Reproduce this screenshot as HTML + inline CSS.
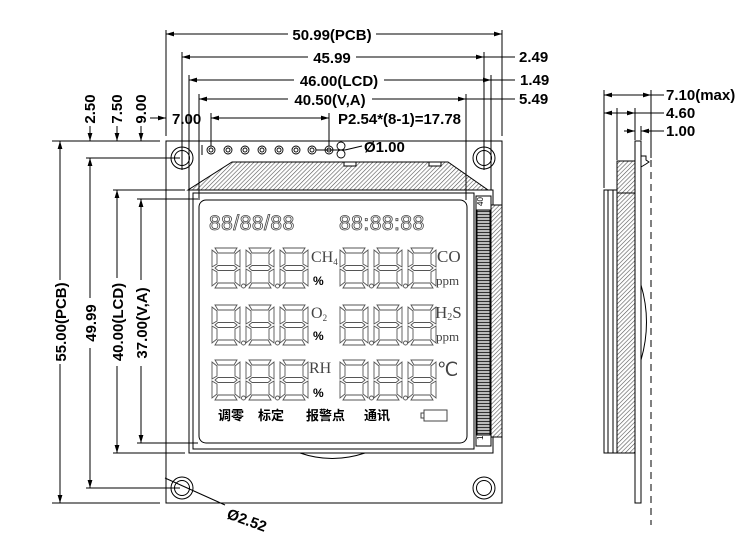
<!DOCTYPE html>
<html><head><meta charset="utf-8"><style>
html,body{margin:0;padding:0;background:#fff}
svg{display:block}
text{font-family:"Liberation Sans","Noto Sans CJK SC",sans-serif;font-weight:bold;fill:#000}
.s{font-family:"Liberation Serif",serif;font-weight:normal;fill:#444}
.m{text-anchor:middle}
</style></head><body>
<svg width="750" height="554" viewBox="0 0 750 554" xmlns="http://www.w3.org/2000/svg">
<defs>
<pattern id="h" width="3" height="3" patternUnits="userSpaceOnUse" patternTransform="rotate(45)">
<rect width="3" height="3" fill="#fff"/><line x1="0" y1="0" x2="0" y2="3" stroke="#555" stroke-width="1.2"/></pattern>
<pattern id="h2" width="3" height="3" patternUnits="userSpaceOnUse">
<rect width="3" height="3" fill="#bbb"/><line x1="0" y1="1.5" x2="3" y2="1.5" stroke="#333" stroke-width="1"/></pattern>
<marker id="a" viewBox="0 0 10 6" refX="10" refY="3" markerWidth="8" markerHeight="5" orient="auto-start-reverse"><path d="M0,0L10,3L0,6z" fill="#000"/></marker>
<g id="d" fill="none" stroke="#555" stroke-width="0.9">
<polygon points="3,0 25,0 22,5 6,5"/>
<polygon points="3,20 6,17.5 22,17.5 25,20 22,22.5 6,22.5"/>
<polygon points="3,40 6,35 22,35 25,40"/>
<polygon points="0,2 5,6 5,16 0,19"/>
<polygon points="28,2 23,6 23,16 28,19"/>
<polygon points="0,21 5,24 5,34 0,38"/>
<polygon points="28,21 23,24 23,34 28,38"/>
</g>
<g id="dd"><use href="#d"/><circle cx="31.5" cy="38" r="2" fill="none" stroke="#555" stroke-width="0.9"/></g>
</defs>
<g stroke="#000" stroke-width="1" fill="none">
<rect x="166" y="141" width="336" height="362"/>
<g><circle cx="182" cy="158" r="11"/><circle cx="182" cy="158" r="7.5"/>
<circle cx="484" cy="158" r="11"/><circle cx="484" cy="158" r="7.5"/>
<circle cx="182" cy="488" r="11"/><circle cx="182" cy="488" r="7.5"/>
<circle cx="484" cy="488" r="11"/><circle cx="484" cy="488" r="7.5"/></g>
<g stroke-width="0.9">
<circle cx="211" cy="150" r="4"/><circle cx="211" cy="150" r="2"/>
<circle cx="228" cy="150" r="4"/><circle cx="228" cy="150" r="2"/>
<circle cx="245" cy="150" r="4"/><circle cx="245" cy="150" r="2"/>
<circle cx="262" cy="150" r="4"/><circle cx="262" cy="150" r="2"/>
<circle cx="279" cy="150" r="4"/><circle cx="279" cy="150" r="2"/>
<circle cx="296" cy="150" r="4"/><circle cx="296" cy="150" r="2"/>
<circle cx="312" cy="150" r="4"/><circle cx="312" cy="150" r="2"/>
<circle cx="329" cy="150" r="4"/><circle cx="329" cy="150" r="2"/>
<circle cx="341" cy="146" r="4"/><circle cx="341" cy="154" r="4"/>
</g>
<line x1="202" y1="145" x2="202" y2="155"/>
<line x1="316" y1="150" x2="345" y2="150"/>
<line x1="345" y1="150" x2="362" y2="146"/>
<polygon points="232,162 448,162 488,190 188,190" fill="url(#h)"/>
<rect x="344" y="162" width="12" height="4" fill="#fff"/>
<rect x="429" y="162" width="12" height="4" fill="#fff"/>
<rect x="189" y="190" width="304" height="263" fill="#fff"/>
<rect x="193" y="193" width="281" height="256"/>
<rect x="199" y="200" width="268" height="243" rx="7"/>
<path d="M300,453 Q332,464 365,453"/>
<rect x="476" y="196" width="15" height="250" fill="#fff"/>
<rect x="477" y="210" width="13" height="225" fill="url(#h2)"/>
<rect x="491" y="205" width="11" height="232" fill="url(#h)"/>
<line x1="166" y1="30" x2="166" y2="136"/><line x1="502" y1="30" x2="502" y2="136"/>
<line x1="182" y1="52" x2="182" y2="170"/><line x1="484" y1="52" x2="484" y2="170"/>
<line x1="189" y1="75" x2="189" y2="190"/><line x1="491" y1="75" x2="491" y2="190"/>
<line x1="199" y1="94" x2="199" y2="200"/><line x1="466" y1="94" x2="466" y2="200"/>
<line x1="211" y1="113" x2="211" y2="146"/><line x1="329" y1="113" x2="329" y2="146"/>
<g marker-start="url(#a)" marker-end="url(#a)">
<line x1="166" y1="34" x2="502" y2="34"/>
<line x1="182" y1="57" x2="484" y2="57"/>
<line x1="189" y1="80" x2="491" y2="80"/>
<line x1="199" y1="99" x2="466" y2="99"/>
<line x1="211" y1="118" x2="329" y2="118"/>
</g>
<line x1="484" y1="57" x2="515" y2="57"/><line x1="491" y1="80" x2="515" y2="80"/><line x1="466" y1="99" x2="515" y2="99"/>
<line x1="150" y1="118" x2="166" y2="118" marker-end="url(#a)"/>
<line x1="52" y1="141" x2="160" y2="141"/><line x1="52" y1="503" x2="160" y2="503"/>
<line x1="86" y1="158" x2="180" y2="158"/><line x1="86" y1="488" x2="180" y2="488"/>
<line x1="113" y1="190" x2="185" y2="190"/><line x1="113" y1="453" x2="185" y2="453"/>
<line x1="137" y1="199" x2="198" y2="199"/><line x1="137" y1="443" x2="198" y2="443"/>
<g marker-start="url(#a)" marker-end="url(#a)">
<line x1="60" y1="141" x2="60" y2="503"/>
<line x1="90" y1="158" x2="90" y2="488"/>
<line x1="117" y1="190" x2="117" y2="453"/>
<line x1="141" y1="199" x2="141" y2="443"/>
</g>
<line x1="90" y1="126" x2="90" y2="141" marker-end="url(#a)"/>
<line x1="117" y1="126" x2="117" y2="141" marker-end="url(#a)"/>
<line x1="141" y1="126" x2="141" y2="141" marker-end="url(#a)"/>
<line x1="165" y1="478" x2="225" y2="505"/>
<rect x="635" y="141" width="6" height="362" fill="#fff"/>
<rect x="617" y="161" width="18" height="292" fill="url(#h)"/>
<line x1="617" y1="193" x2="635" y2="193"/>
<rect x="604" y="190" width="13" height="263" fill="#fff"/>
<line x1="608" y1="190" x2="608" y2="453"/><line x1="613" y1="190" x2="613" y2="453"/>
<path d="M641,156 L646,156 L646,160 L649,162 L646,164 L641,167"/>
<path d="M641,285 Q652,322 641,360"/>
<line x1="651" y1="160" x2="651" y2="525" stroke-dasharray="7,5"/>
<line x1="604" y1="90" x2="604" y2="188"/>
<line x1="651" y1="90" x2="651" y2="158"/>
<line x1="617" y1="108" x2="617" y2="160"/>
<line x1="635" y1="108" x2="635" y2="140"/>
<line x1="641" y1="126" x2="641" y2="140"/>
<g marker-start="url(#a)" marker-end="url(#a)">
<line x1="604" y1="95" x2="651" y2="95"/>
<line x1="604" y1="113" x2="635" y2="113"/>
</g>
<line x1="651" y1="95" x2="664" y2="95"/>
<line x1="635" y1="113" x2="664" y2="113"/>
<line x1="624" y1="131" x2="635" y2="131" marker-end="url(#a)"/>
<line x1="652" y1="131" x2="641" y2="131" marker-end="url(#a)"/>
<line x1="641" y1="131" x2="664" y2="131"/>
</g>
<g>
<use href="#dd" x="212" y="248"/><use href="#dd" x="246" y="248"/><use href="#d" x="280" y="248"/>
<use href="#dd" x="340" y="248"/><use href="#dd" x="374" y="248"/><use href="#d" x="408" y="248"/>
<use href="#dd" x="212" y="305"/><use href="#dd" x="246" y="305"/><use href="#d" x="280" y="305"/>
<use href="#dd" x="340" y="305"/><use href="#dd" x="374" y="305"/><use href="#d" x="408" y="305"/>
<use href="#dd" x="212" y="360"/><use href="#dd" x="246" y="360"/><use href="#d" x="280" y="360"/>
<use href="#dd" x="340" y="360"/><use href="#dd" x="374" y="360"/><use href="#d" x="408" y="360"/>
</g>
<text x="209" y="230" font-size="21" style="fill:#fff;stroke:#444;stroke-width:0.8;font-weight:normal;letter-spacing:0.5px">88/88/88</text>
<text x="339" y="230" font-size="21" style="fill:#fff;stroke:#444;stroke-width:0.8;font-weight:normal;letter-spacing:0.5px">88:88:88</text>
<text class="s" x="311" y="262" font-size="16">CH<tspan font-size="9" dy="3">4</tspan></text>
<text x="313" y="285" font-size="12">%</text>
<text class="s" x="437" y="262" font-size="17">CO</text>
<text class="s" x="436" y="285" font-size="13">ppm</text>
<text class="s" x="311" y="318" font-size="16">O<tspan font-size="9" dy="3">2</tspan></text>
<text x="313" y="340" font-size="12">%</text>
<text class="s" x="435" y="318" font-size="17">H<tspan font-size="10" dy="2">2</tspan><tspan dy="-2">S</tspan></text>
<text class="s" x="436" y="341" font-size="13">ppm</text>
<text class="s" x="309" y="373" font-size="16">RH</text>
<text x="313" y="397" font-size="12">%</text>
<text class="s" x="437" y="376" font-size="19">℃</text>
<g font-size="13"><text x="218" y="420">调零</text><text x="258" y="420">标定</text><text x="306" y="420">报警点</text><text x="364" y="420">通讯</text></g>
<g stroke="#444" fill="none"><rect x="424" y="410" width="23" height="11"/><path d="M424,413 h-3 v5 h3"/></g>
<text x="483" y="206" font-size="8" style="font-weight:normal" transform="rotate(-90 483 206)">40</text>
<text x="483" y="440" font-size="8" style="font-weight:normal" transform="rotate(-90 483 440)">1</text>
<g font-size="15">
<rect x="288" y="26" width="88" height="16" fill="#fff"/><text class="m" x="332" y="40">50.99(PCB)</text>
<rect x="308" y="49" width="48" height="16" fill="#fff"/><text class="m" x="332" y="63">45.99</text>
<rect x="294" y="72" width="90" height="16" fill="#fff"/><text class="m" x="339" y="86">46.00(LCD)</text>
<rect x="288" y="91" width="84" height="16" fill="#fff"/><text class="m" x="330" y="105">40.50(V,A)</text>
<text x="338" y="124">P2.54*(8-1)=17.78</text>
<text x="172" y="124">7.00</text>
<text x="364" y="152">Ø1.00</text>
<text x="519" y="62">2.49</text><text x="520" y="85">1.49</text><text x="519" y="104">5.49</text>
<text x="666" y="100">7.10(max)</text><text x="666" y="118">4.60</text><text x="666" y="136">1.00</text>
<text x="226" y="518" transform="rotate(20 226 518)">Ø2.52</text>
<text class="m" transform="translate(95,109) rotate(-90)">2.50</text>
<text class="m" transform="translate(122,109) rotate(-90)">7.50</text>
<text class="m" transform="translate(146,109) rotate(-90)">9.00</text>
<rect x="52" y="280" width="16" height="84" fill="#fff"/><text class="m" transform="translate(66,322) rotate(-90)">55.00(PCB)</text>
<rect x="82" y="298" width="16" height="50" fill="#fff"/><text class="m" transform="translate(96,323) rotate(-90)">49.99</text>
<rect x="109" y="278" width="16" height="88" fill="#fff"/><text class="m" transform="translate(123,322) rotate(-90)">40.00(LCD)</text>
<rect x="133" y="280" width="16" height="86" fill="#fff"/><text class="m" transform="translate(147,323) rotate(-90)">37.00(V,A)</text>
</g>
</svg>
</body></html>
